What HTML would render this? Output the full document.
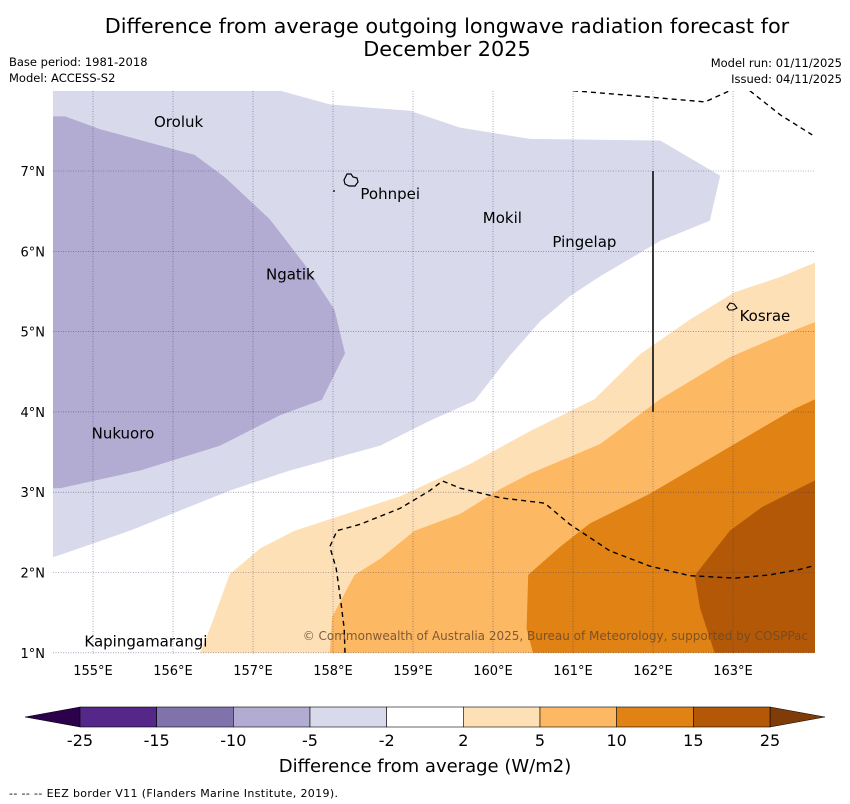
<!DOCTYPE html>
<html><head><meta charset="utf-8">
<style>
body{margin:0;background:#fff;width:850px;height:804px;overflow:hidden;font-family:"DejaVu Sans","Liberation Sans",sans-serif;}
svg{display:block}
text{font-family:"DejaVu Sans","Liberation Sans",sans-serif;}
</style></head>
<body>
<svg id="chart" width="850" height="804" viewBox="0 0 850 804">
<text x="447" y="33" font-size="20.8" text-anchor="middle">Difference from average outgoing longwave radiation forecast for</text>
<text x="447" y="56" font-size="20.8" text-anchor="middle">December 2025</text>
<text x="9" y="66" font-size="11.5">Base period: 1981-2018</text>
<text x="9" y="82" font-size="11.5">Model: ACCESS-S2</text>
<text x="842" y="67" font-size="11.5" text-anchor="end">Model run: 01/11/2025</text>
<text x="842" y="83" font-size="11.5" text-anchor="end">Issued: 04/11/2025</text>
<g id="map"></g>
<g id="cbar"></g>
<text x="425" y="772" font-size="18" text-anchor="middle">Difference from average (W/m2)</text>
<text x="9" y="797" font-size="11" textLength="329">--  --  -- EEZ border V11 (Flanders Marine Institute, 2019).</text>
</svg>
<script>
const lonTicks=[155,156,157,158,159,160,161,162,163];
const latTicks=[1,2,3,4,5,6,7];
const levels=[-25,-15,-10,-5,-2,2,5,10,15,25];
const levelColors=["#542788","#8073ac","#b2abd2","#d8daeb","#ffffff","#fee0b6","#fdb863","#e08214","#b35806"];
const levelNames=["lt-minus15","minus15-minus10","minus10-minus5","minus5-minus2","near-zero","plus2-plus5","plus5-plus10","plus10-plus15","plus15-plus25"];
const contourLight=[[154.5,2.19],[154.65,2.24],[155.46,2.52],[156.71,3.02],[157.46,3.27],[158.59,3.58],[159.21,3.89],[159.77,4.14],[160.21,4.7],[160.59,5.13],[160.96,5.44],[161.34,5.69],[162.09,6.13],[162.71,6.38],[162.84,6.94],[162.09,7.38],[160.46,7.4],[159.59,7.54],[158.96,7.75],[157.96,7.83],[157.34,8.0],[154.5,8.0]];
const contourMid=[[154.5,7.68],[154.65,7.68],[155.09,7.52],[156.27,7.2],[156.65,6.92],[157.21,6.4],[157.65,5.83],[158.02,5.27],[158.15,4.73],[157.86,4.15],[157.34,3.96],[156.59,3.58],[155.59,3.27],[154.59,3.05],[154.5,3.05]];
const contourP2=[[156.34,1.0],[156.46,1.3],[156.71,1.98],[157.09,2.3],[157.52,2.52],[158.84,2.95],[159.71,3.35],[160.46,3.76],[161.27,4.16],[161.84,4.72],[162.46,5.15],[163.02,5.49],[163.59,5.68],[164.03,5.86],[164.03,1.0]];
const contourP5=[[157.96,1.0],[157.99,1.45],[158.27,1.97],[158.59,2.17],[159.02,2.52],[159.59,2.73],[160.09,3.04],[160.46,3.23],[161.34,3.6],[162.09,4.16],[162.96,4.68],[163.59,4.95],[164.03,5.12],[164.03,1.0]];
const contourP10=[[160.5,1.0],[160.42,1.3],[160.44,1.97],[160.84,2.32],[161.21,2.61],[161.96,2.98],[163.02,3.6],[163.77,4.04],[164.03,4.16],[164.03,1.0]];
const contourP15=[[162.77,1.0],[162.59,1.55],[162.52,1.96],[162.96,2.52],[163.37,2.82],[164.03,3.15],[164.03,1.0]];
const eezSouth=[[158.15,1.0],[158.14,1.3],[158.1,1.62],[158.04,2.05],[157.96,2.32],[158.05,2.52],[158.34,2.6],[158.84,2.8],[159.21,3.02],[159.37,3.14],[159.59,3.05],[160.09,2.93],[160.59,2.87],[160.65,2.86],[160.96,2.6],[161.46,2.27],[161.96,2.08],[162.46,1.96],[163.02,1.93],[163.46,1.97],[163.84,2.04],[164.03,2.09]];
const eezNorth1=[[161.0,8.0],[161.84,7.93],[162.65,7.86],[162.96,8.0]];
const eezNorth2=[[163.21,8.0],[163.59,7.7],[163.99,7.45]];
const islandNames=["Oroluk","Pohnpei","Mokil","Pingelap","Ngatik","Kosrae","Nukuoro","Kapingamarangi"];
const islandLon=[155.75,158.33,159.86,160.73,157.15,163.07,154.97,154.88];
const islandLat=[7.7,6.8,6.5,6.2,5.8,5.28,3.82,1.23];

const NS="http://www.w3.org/2000/svg";
const X=lon=>93+(lon-155)*80;
const Y=lat=>171-(lat-7)*80.3;
const map=document.getElementById('map');
function mk(tag,attrs,parent){const e=document.createElementNS(NS,tag);for(const k in attrs)e.setAttribute(k,attrs[k]);parent.appendChild(e);return e;}
function pts(a){return a.map(p=>X(p[0]).toFixed(1)+','+Y(p[1]).toFixed(1)).join(' ');}
const clip=mk('clipPath',{id:'mc'},map);mk('rect',{x:53,y:91,width:762,height:563},clip);
const g=mk('g',{'clip-path':'url(#mc)'},map);
const fills=[[contourLight,3],[contourMid,2],[contourP2,5],[contourP5,6],[contourP10,7],[contourP15,8]];
fills.forEach(f=>{const p=mk('polygon',{points:pts(f[0]),fill:levelColors[f[1]]},g);

});
lonTicks.forEach(l=>{const ln=mk('line',{x1:X(l),x2:X(l),y1:91,y2:654,stroke:'#336',"stroke-width":0.6,"stroke-dasharray":"1,1.5",opacity:0.7},g);


const t=mk('text',{x:X(l),y:675,"font-size":13,"text-anchor":"middle"},map);t.textContent=l+'°E';

});
latTicks.forEach(l=>{const ln=mk('line',{x1:53,x2:815,y1:Y(l),y2:Y(l),stroke:'#336',"stroke-width":0.6,"stroke-dasharray":"1,1.5",opacity:0.7},g);


const t=mk('text',{x:45,y:Y(l)+5,"font-size":13,"text-anchor":"end"},map);t.textContent=l+'°N';

});
[eezSouth,eezNorth1,eezNorth2].forEach((e,i)=>{const p=mk('polyline',{points:pts(e),fill:'none',stroke:'#000',"stroke-width":1.4,"stroke-dasharray":"5,4"},g);

});
const bl=mk('line',{x1:X(162),x2:X(162),y1:Y(7),y2:Y(4),stroke:'#222',"stroke-width":1.8},g);


const ps=mk('path',{d:'M344,180 l3,-6 4,0 2,3 4,1 1,4 -3,4 -6,0 -4,-2z M334,190 l0,2',fill:'none',stroke:'#000',"stroke-width":1.2},g);


const ks=mk('path',{d:'M727,307 l3,-4 4,1 3,4 -4,2 -4,0z',fill:'none',stroke:'#000',"stroke-width":1.1},g);


islandNames.forEach((n,i)=>{const t=mk('text',{x:X(islandLon[i])+1,y:Y(islandLat[i])+12,"font-size":15},map);t.textContent=n;

});
const cp=mk('text',{x:808,y:640,"font-size":12,"text-anchor":"end",fill:'#6b4a2a',opacity:0.85},map);
cp.textContent='© Commonwealth of Australia 2025, Bureau of Meteorology, supported by COSPPac';


const cb=document.getElementById('cbar');
const x0=80,x1=770,cy=707,ch=20,bw=(x1-x0)/levelColors.length;
const lt=mk('polygon',{points:`${x0},${cy} 25,${cy+ch/2} ${x0},${cy+ch}`,fill:'#2d004b',stroke:'#000',"stroke-width":0.5},cb);


const rt=mk('polygon',{points:`${x1},${cy} 825,${cy+ch/2} ${x1},${cy+ch}`,fill:'#7f3b08',stroke:'#000',"stroke-width":0.5},cb);


levelColors.forEach((c,i)=>{const r=mk('rect',{x:x0+i*bw,y:cy,width:bw,height:ch,fill:c,stroke:'#000',"stroke-width":0.6},cb);

});
levels.forEach((v,i)=>{const t=mk('text',{x:x0+i*bw,y:746,"font-size":16,"text-anchor":"middle"},cb);t.textContent=v;

});
</script>
</body></html>
